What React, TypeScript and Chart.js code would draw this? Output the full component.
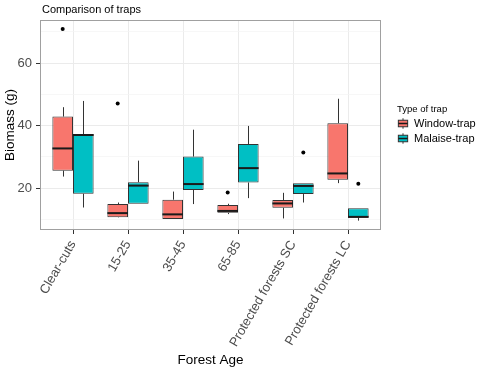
import React, { useEffect, useRef } from "react";
import { Chart, registerables } from "chart.js";

Chart.register(...registerables);

const categories = ["Clear-cuts", "15-25", "35-45", "65-85", "Protected forests SC", "Protected forests LC"];
const seriesNames = ["Window-trap", "Malaise-trap"];
const seriesColors = ["#F8766D", "#00BFC4"];

const windowMin = [23.7, 10.6, 10.1, 11.7, 10.3, 21.6];
const windowQ1 = [25.6, 10.7, 10.1, 12.1, 13.7, 22.7];
const windowMedian = [32.7, 12.0, 11.6, 12.7, 15.1, 24.7];
const windowQ3 = [42.9, 14.9, 16.3, 14.6, 16.2, 40.8];
const windowMax = [45.9, 15.4, 18.9, 15.0, 18.5, 48.6];
const windowOutliers = [[70.9], [47.1], [], [18.6], [], []];

const malaiseMin = [13.8, 15.0, 14.9, 16.8, 15.4, 9.6];
const malaiseQ1 = [18.2, 15.0, 19.4, 21.8, 18.1, 10.5];
const malaiseMedian = [37.0, 20.8, 21.3, 26.4, 20.7, 10.8];
const malaiseQ3 = [37.3, 21.9, 30.1, 34.1, 21.6, 13.6];
const malaiseMax = [47.9, 28.8, 38.7, 39.9, 21.6, 13.6];
const malaiseOutliers = [[], [], [], [], [31.4], [21.4]];

const yMin = 6.6;
const yMax = 73.8;

const stats = [
  { min: windowMin, q1: windowQ1, med: windowMedian, q3: windowQ3, max: windowMax, out: windowOutliers },
  { min: malaiseMin, q1: malaiseQ1, med: malaiseMedian, q3: malaiseQ3, max: malaiseMax, out: malaiseOutliers },
];

const FONT = "'Liberation Sans', Arial, Helvetica, sans-serif";
const LINE = "#333333";

const boxPlugin = {
  id: "boxExtras",
  beforeDatasetsDraw(chart: any) {
    const ctx = chart.ctx;
    const y = chart.scales.y;
    ctx.save();
    ctx.strokeStyle = LINE;
    ctx.lineWidth = 1;
    stats.forEach((s, d) => {
      const meta = chart.getDatasetMeta(d);
      meta.data.forEach((el: any, i: number) => {
        const x = Math.round(el.x) + 0.5;
        ctx.beginPath();
        ctx.moveTo(x, y.getPixelForValue(s.max[i]));
        ctx.lineTo(x, y.getPixelForValue(s.q3[i]));
        ctx.moveTo(x, y.getPixelForValue(s.q1[i]));
        ctx.lineTo(x, y.getPixelForValue(s.min[i]));
        ctx.stroke();
      });
    });
    ctx.restore();
  },
  afterDatasetsDraw(chart: any) {
    const ctx = chart.ctx;
    const y = chart.scales.y;
    ctx.save();
    stats.forEach((s, d) => {
      const meta = chart.getDatasetMeta(d);
      meta.data.forEach((el: any, i: number) => {
        const w = el.width;
        ctx.strokeStyle = "#1A1A1A";
        ctx.lineWidth = 2;
        ctx.beginPath();
        const py = y.getPixelForValue(s.med[i]);
        ctx.moveTo(el.x - w / 2, py);
        ctx.lineTo(el.x + w / 2, py);
        ctx.stroke();
        ctx.fillStyle = "#000000";
        s.out[i].forEach((v: number) => {
          ctx.beginPath();
          ctx.arc(el.x, y.getPixelForValue(v), 2, 0, Math.PI * 2);
          ctx.fill();
        });
      });
    });
    // panel border
    const a = chart.chartArea;
    ctx.strokeStyle = "#A0A0A0";
    ctx.lineWidth = 1;
    ctx.strokeRect(a.left + 0.5, a.top + 0.5, a.right - a.left - 1, a.bottom - a.top - 1);
    ctx.restore();
  },
  afterDraw(chart: any) {
    const ctx = chart.ctx;
    const a = chart.chartArea;
    ctx.save();
    // title
    ctx.fillStyle = "#000000";
    ctx.font = `11px ${FONT}`;
    ctx.textBaseline = "middle";
    ctx.textAlign = "left";
    ctx.fillText("Comparison of traps", a.left + 2, 9.5);
    // legend
    const lx = a.right + 16;
    ctx.font = `9.5px ${FONT}`;
    ctx.fillText("Type of trap", lx, 109);
    const keyY = [123.5, 138.5];
    seriesNames.forEach((name, k) => {
      const cx = lx + 6;
      const cy = keyY[k];
      const kw = 12.4;
      const kh = 13;
      ctx.strokeStyle = LINE;
      ctx.lineWidth = 1;
      ctx.beginPath();
      ctx.moveTo(cx, cy - kh * 0.4);
      ctx.lineTo(cx, cy + kh * 0.4);
      ctx.stroke();
      ctx.fillStyle = seriesColors[k];
      ctx.fillRect(cx - kw * 0.375, cy - kh * 0.25, kw * 0.75, kh * 0.5);
      ctx.strokeRect(cx - kw * 0.375, cy - kh * 0.25, kw * 0.75, kh * 0.5);
      ctx.strokeStyle = "#1A1A1A";
      ctx.lineWidth = 1.5;
      ctx.beginPath();
      ctx.moveTo(cx - kw * 0.375, cy);
      ctx.lineTo(cx + kw * 0.375, cy);
      ctx.stroke();
      ctx.fillStyle = "#000000";
      ctx.font = `11px ${FONT}`;
      ctx.fillText(name, lx + 17, cy + 0.5);
    });
    ctx.restore();
  },
};

export default function App() {
  const ref = useRef<HTMLCanvasElement>(null);
  useEffect(() => {
    Chart.defaults.font.family = FONT;
    const datasets = stats.map((s, d) => ({
      type: "bar" as const,
      label: seriesNames[d],
      data: categories.map((_, i) => ({ x: i, y: [s.q1[i], s.q3[i]] })),
      backgroundColor: seriesColors[d],
      borderColor: LINE,
      borderWidth: 1,
      borderSkipped: false as const,
      categoryPercentage: 0.75,
      barPercentage: 1,
    }));
    const chart = new Chart(ref.current!, {
      type: "bar",
      data: { datasets: datasets as any },
      plugins: [boxPlugin],
      options: {
        animation: false,
        responsive: false,
        devicePixelRatio: 1,
        layout: { padding: { top: 20, right: 102, bottom: 0, left: 0 } },
        plugins: { legend: { display: false }, tooltip: { enabled: false }, title: { display: false } },
        scales: {
          x: {
            type: "linear",
            min: -0.6,
            max: 5.6,
            offset: false,
            border: { display: false },
            grid: { offset: false, color: "#EBEBEB", lineWidth: 1, tickColor: LINE, tickLength: 4 },
            ticks: {
              stepSize: 1,
              includeBounds: false,
              autoSkip: false,
              maxRotation: 60,
              minRotation: 60,
              padding: 4,
              color: "#4D4D4D",
              font: { size: 13 },
              callback: (v: any) => categories[Math.round(Number(v))] ?? "",
            },
            title: { display: true, text: "Forest Age", color: "#000000", font: { size: 13.5 }, padding: { top: 4, bottom: 4 } },
            afterFit: (scale: any) => {
              scale.height = 142;
            },
          },
          y: {
            type: "linear",
            min: yMin,
            max: yMax,
            border: { display: false },
            grid: {
              color: (c: any) => (Math.round(c.tick.value) % 20 === 0 ? "#EBEBEB" : "#F4F4F4"),
              lineWidth: (c: any) => (Math.round(c.tick.value) % 20 === 0 ? 1 : 0.7),
              tickColor: (c: any) => (Math.round(c.tick.value) % 20 === 0 ? LINE : "rgba(0,0,0,0)"),
              tickLength: 4,
            },
            ticks: {
              stepSize: 10,
              includeBounds: false,
              padding: 4,
              color: "#4D4D4D",
              font: { size: 13 },
              callback: (v: any) => (Math.round(Number(v)) % 20 === 0 ? String(Math.round(Number(v))) : ""),
            },
            title: { display: true, text: "Biomass (g)", color: "#000000", font: { size: 13.5 }, padding: { top: 2, bottom: 2 } },
            afterFit: (scale: any) => {
              scale.width = 40;
            },
          },
        },
      },
    });
    return () => chart.destroy();
  }, []);
  return (
    <canvas
      ref={ref}
      width={483}
      height={372}
      style={{ position: "absolute", left: 0, top: 0, display: "block", width: 483, height: 372 }}
    />
  );
}
